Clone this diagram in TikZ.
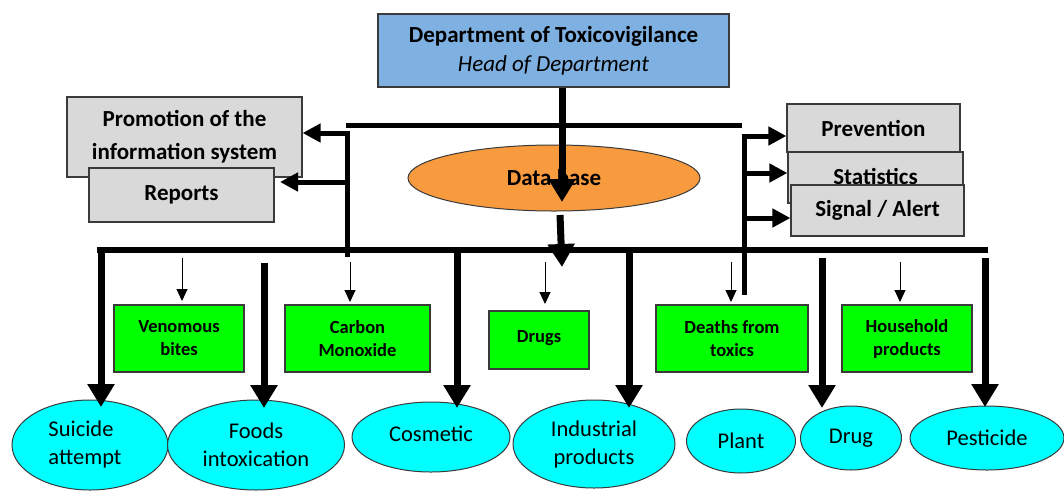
\documentclass[tikz,border=0pt]{standalone}
\usepackage{fontspec}
\setmainfont{Carlito}
\usetikzlibrary{arrows.meta,shapes.geometric}
\definecolor{deptblue}{HTML}{7EB1E2}
\definecolor{dborange}{HTML}{F89B3F}
\definecolor{boxgray}{HTML}{D9D9D9}
\definecolor{boxgreen}{HTML}{00FF00}
\definecolor{ellcyan}{HTML}{00FFFF}
\definecolor{edge}{HTML}{3A3A3A}
\begin{document}
\begin{tikzpicture}[x=1pt,y=-1pt,
 graybox/.style={draw=edge, line width=1.2pt, fill=boxgray, inner sep=0pt, font=\fontsize{23}{33}\selectfont\bfseries, align=center},
 greenbox/.style={draw=edge, line width=1.2pt, fill=boxgreen, inner sep=0pt, font=\fontsize{18.5}{23}\selectfont\bfseries, align=center},
 cyanell/.style={ellipse, draw=edge, line width=1pt, fill=ellcyan, inner sep=0pt, font=\fontsize{22.5}{28}\selectfont, align=center},
 bigarrow/.style={line width=7pt, -{Triangle[width=26pt,length=23pt]}},
 sidearrow/.style={line width=5pt, -{Triangle[width=18pt,length=18pt]}},
 thinarrow/.style={line width=1pt, -{Triangle[width=11pt,length=12pt]}},
]
\useasboundingbox (0,0) rectangle (1064,491);

% top department box
\node[draw=edge, line width=1.2pt, fill=deptblue, minimum width=351pt, minimum height=73pt, inner sep=0pt,
  align=center, font=\fontsize{23}{29}\selectfont] (dept) at (553.5,50.5)
  {\textbf{Department of Toxicovigilance}\\\textit{Head of Department}};

% upper frame lines
\coordinate (tl) at (346,125);
\coordinate (tr) at (742,125);
\draw[line width=5pt] (tl) -- (tr);
\coordinate (lvtop) at (347,131);
\coordinate (lvbot) at (347,257);
\coordinate (rvtop) at (744,134);
\coordinate (rvbot) at (744,295);
\draw[line width=5pt] (lvtop) -- (lvbot);
\draw[line width=5pt] (rvtop) -- (rvbot);

% left boxes
\node[graybox, minimum width=235pt, minimum height=80pt] (promo) at (184.5,137) {Promotion of the\\information system};
\node[graybox, minimum width=185pt, minimum height=54pt] (reports) at (181.5,195) {\raisebox{3pt}{Reports}};

% right boxes
\node[graybox, minimum width=173pt, minimum height=48pt] (prev) at (873.5,128) {Prevention};
\node[graybox, minimum width=175pt, minimum height=51pt] (stat) at (875.5,177.5) {\raisebox{3pt}{Statistics}};
\node[graybox, minimum width=173pt, minimum height=51pt] (signal) at (877.5,210.5) {\raisebox{2pt}{Signal / Alert}};

% database
\node[ellipse, draw=edge, line width=1pt, fill=dborange, minimum width=292pt, minimum height=66pt, inner sep=0pt,
  font=\fontsize{23}{28}\selectfont\bfseries] (db) at (554,178) {\raisebox{2pt}{Data base}};

% arrows dept -> database -> bus
\coordinate (t1) at (562,202);
\draw[bigarrow] (dept.south -| t1) -- (t1);
\coordinate (d1) at (560,215);
\coordinate (d2) at (562,267);
\draw[bigarrow] (d1) -- (d2);

% side arrows
\draw[sidearrow] (349.5,133) -- (promo.east |- 0,133);
\draw[sidearrow] (lvtop |- 0,182) -- (280,182);
\draw[sidearrow] (741.5,136) -- (prev.west |- 0,136);
\draw[sidearrow] (rvtop |- 0,173) -- (stat.west |- 0,173);
\draw[sidearrow] (rvtop |- 0,218) -- (signal.west |- 0,218);

% main bus
\coordinate (bl) at (97,250);
\coordinate (br) at (988,250);
\draw[line width=6pt] (bl) -- (br);

% green boxes
\node[greenbox, minimum width=130pt, minimum height=67pt] (ven) at (179,338.5) {Venomous\\bites};
\node[greenbox, minimum width=145pt, minimum height=67pt] (co) at (357.5,338.5) {Carbon\\Monoxide};
\node[greenbox, minimum width=100pt, minimum height=58pt] (drugs) at (539,340) {\raisebox{8pt}{Drugs}};
\node[greenbox, minimum width=152pt, minimum height=67pt] (deaths) at (732,338.5) {Deaths from\\toxics};
\node[greenbox, minimum width=130pt, minimum height=67pt] (house) at (907,338.5) {Household\\products};

% thin arrows
\draw[thinarrow] (182,258) -- (182,301);
\draw[thinarrow] (350,262) -- (350,302);
\draw[thinarrow] (545,262) -- (545,304);
\draw[thinarrow] (731,262) -- (731,302);
\draw[thinarrow] (900,262) -- (900,302);

% bottom ellipses
\node[cyanell, minimum width=156pt, minimum height=90pt] (suicide) at (90,445) {\hspace*{-10pt}\begin{tabular}{@{}l@{}}Suicide\\attempt\end{tabular}};
\node[cyanell, minimum width=177pt, minimum height=90pt] (foods) at (256,445) {Foods\\intoxication};
\node[cyanell, minimum width=158pt, minimum height=70pt] (cosm) at (431,437) {\raisebox{6pt}{Cosmetic}};
\node[cyanell, minimum width=162pt, minimum height=88pt] (indus) at (594,444) {Industrial\\products};
\node[cyanell, minimum width=109pt, minimum height=64pt] (plant) at (741,441) {Plant};
\node[cyanell, minimum width=101pt, minimum height=64pt] (drug) at (851,438) {Drug};
\node[cyanell, minimum width=154pt, minimum height=64pt] (pest) at (987,438) {Pesticide};

% thick arrows from bus
\draw[bigarrow] (101,250) -- (101,407);
\draw[bigarrow] (264,263) -- (264,408);
\draw[bigarrow] (457,250) -- (457,408);
\draw[bigarrow] (629,250) -- (629,408);
\draw[bigarrow] (822,258) -- (822,408);
\draw[bigarrow] (985,258) -- (985,407);
\end{tikzpicture}
\end{document}
